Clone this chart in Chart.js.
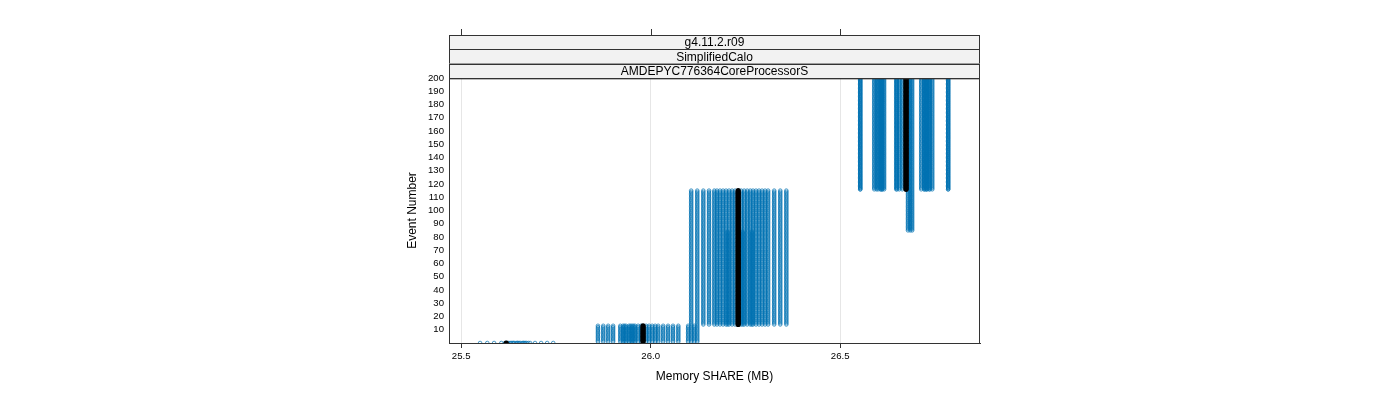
<!DOCTYPE html>
<html>
<head>
<meta charset="utf-8">
<script src="https://cdn.jsdelivr.net/npm/chart.js@4/dist/chart.umd.min.js"></script>
<style>
  html, body { margin: 0; padding: 0; background: #fff; }
  #wrap { width: 1400px; height: 400px; }
</style>
</head>
<body>
<div id="wrap"><canvas id="chart" width="1400" height="400"></canvas></div>
<script>
// Memory SHARE (MB) per run, one entry per run
const shareEvt0 = [25.550, 25.569, 25.587, 25.606, 25.616, 25.624, 25.629, 25.635, 25.640, 25.645,
                   25.650, 25.656, 25.661, 25.666, 25.672, 25.677, 25.682, 25.695, 25.711, 25.727,
                   25.743, 25.621, 25.632, 25.648, 25.664, 25.653, 25.638, 25.669];
const shareEvt1to13 = [25.861, 25.875, 25.888, 25.901, 25.920, 25.927, 25.935, 25.943, 25.951, 25.959,
                       25.967, 25.975, 25.988, 25.996, 26.004, 26.012, 26.020, 26.033, 26.046, 26.059,
                       26.073, 26.099, 26.107, 26.115, 26.123, 25.931, 25.955, 25.947];
const shareMid = [26.107, 26.123, 26.139, 26.154, 26.168, 26.175, 26.183, 26.191, 26.199, 26.207,
                  26.215, 26.223, 26.239, 26.247, 26.255, 26.263, 26.270, 26.278, 26.286, 26.294,
                  26.302, 26.310, 26.326, 26.342, 26.358, 26.203, 26.243, 26.267];
const shareLate = [26.553, 26.664, 26.590, 26.600, 26.608, 26.616, 26.648, 26.656, 26.727, 26.714,
                   26.722, 26.730, 26.722, 26.743, 26.785, 26.611, 26.553, 26.596, 26.611, 26.727,
                   26.735, 26.650, 26.737, 26.785, 26.606, 26.679, 26.685, 26.690];
// first event on the late (highest) memory level for each run
const lateFrom = [116, 116, 116, 116, 116, 116, 116, 116, 116, 116,
                  116, 116, 116, 116, 116, 116, 116, 116, 116, 116,
                  116, 116, 116, 116, 116, 85, 85, 85];
// black reference run: [evt0, evt1-13, evt14-115, evt116-200]
const medianShare = [25.619, 25.980, 26.231, 26.674];
const medianLateFrom = 116;

const eventRange = [0, 200];
const xTicks = [25.5, 26.0, 26.5];
const yTicks = [10, 20, 30, 40, 50, 60, 70, 80, 90, 100, 110, 120, 130, 140, 150, 160, 170, 180, 190, 200];
const stripLabels = ['g4.11.2.r09', 'SimplifiedCalo', 'AMDEPYC776364CoreProcessorS'];

const FONT = '"Liberation Sans", Arial, sans-serif';
const BLUE = 'rgba(0,114,178,0.7)';

function shareAt(evt, a, b, c, d, late) {
    if (evt < 1) return a;
    if (evt <= 13) return b;
    if (evt < late) return c;
    return d;
}

function buildPoints(a, b, c, d, late) {
    const pts = [];
    for (let e = eventRange[0]; e <= eventRange[1]; e++) {
        pts.push({ x: shareAt(e, a, b, c, d, late), y: e });
    }
    return pts;
}

const datasets = [];
// black run first so it draws on top
datasets.push({
    data: buildPoints(medianShare[0], medianShare[1], medianShare[2], medianShare[3], medianLateFrom),
    pointRadius: 2.6,
    pointBorderWidth: 0,
    pointBackgroundColor: '#000',
    pointBorderColor: '#000',
    showLine: false,
    clip: 0
});
shareEvt0.forEach((a, i) => {
    datasets.push({
        data: buildPoints(a, shareEvt1to13[i], shareMid[i], shareLate[i], lateFrom[i]),
        pointRadius: 1.8,
        pointBorderWidth: 1,
        pointBackgroundColor: 'rgba(0,0,0,0)',
        pointBorderColor: BLUE,
        showLine: false,
        clip: 0
    });
});

// strips, top ticks and panel frame like the lattice panel
const panelDecor = {
    id: 'panelDecor',
    afterDraw(chart) {
        const { ctx, chartArea } = chart;
        const x = chart.scales.x;
        const left = chartArea.left, right = chartArea.right;
        const stripH = (chartArea.top - 35) / stripLabels.length;
        ctx.save();
        ctx.lineWidth = 1;
        ctx.strokeStyle = '#333';
        stripLabels.forEach((lab, i) => {
            const top = 35 + i * stripH;
            ctx.fillStyle = '#f2f2f2';
            ctx.fillRect(left, top, right - left, stripH);
            ctx.strokeRect(left + 0.5, Math.round(top) + 0.5, right - left - 1, stripH);
            ctx.fillStyle = '#000';
            ctx.font = '12px ' + FONT;
            ctx.textAlign = 'center';
            ctx.textBaseline = 'middle';
            ctx.fillText(lab, (left + right) / 2, top + stripH / 2 + 1);
        });
        // top ticks
        xTicks.forEach(v => {
            const px = Math.round(x.getPixelForValue(v)) + 0.5;
            ctx.beginPath();
            ctx.moveTo(px, 29);
            ctx.lineTo(px, 35);
            ctx.stroke();
        });
        // panel frame
        ctx.strokeRect(left + 0.5, chartArea.top + 0.5, right - left - 1, chartArea.bottom - chartArea.top);
        ctx.restore();
    }
};

new Chart(document.getElementById('chart'), {
    type: 'scatter',
    data: { datasets: datasets },
    options: {
        responsive: false,
        animation: false,
        devicePixelRatio: 1,
        layout: { padding: { left: 400, right: 420, top: 78, bottom: 0 } },
        plugins: {
            legend: { display: false },
            tooltip: { enabled: false }
        },
        scales: {
            x: {
                type: 'linear',
                min: 25.468,
                max: 26.869,
                afterBuildTicks: (s) => { s.ticks = xTicks.map(v => ({ value: v })); },
                afterFit: (s) => { s.height = 57; },
                grid: {
                    color: '#e6e6e6',
                    tickColor: '#333',
                    tickLength: 5,
                    drawOnChartArea: true
                },
                border: { display: true, color: '#333' },
                ticks: {
                    font: { family: FONT, size: 9.6 },
                    color: '#000',
                    padding: 3,
                    maxRotation: 0,
                    autoSkip: false,
                    callback: (v) => v.toFixed(1)
                },
                title: {
                    display: true,
                    text: 'Memory SHARE (MB)',
                    font: { family: FONT, size: 12 },
                    color: '#000',
                    padding: { top: 0, bottom: 16 }
                }
            },
            y: {
                type: 'linear',
                min: 0,
                max: 200,
                afterBuildTicks: (s) => { s.ticks = yTicks.map(v => ({ value: v })); },
                afterFit: (s) => { s.width = 49; },
                grid: { display: false, drawTicks: false },
                border: { display: true, color: '#333' },
                ticks: {
                    font: { family: FONT, size: 9.6 },
                    color: '#000',
                    padding: 5,
                    autoSkip: false
                },
                title: {
                    display: true,
                    text: 'Event Number',
                    font: { family: FONT, size: 12 },
                    color: '#000',
                    padding: { top: 5, bottom: 0 }
                }
            }
        }
    },
    plugins: [panelDecor]
});
</script>
</body>
</html>
